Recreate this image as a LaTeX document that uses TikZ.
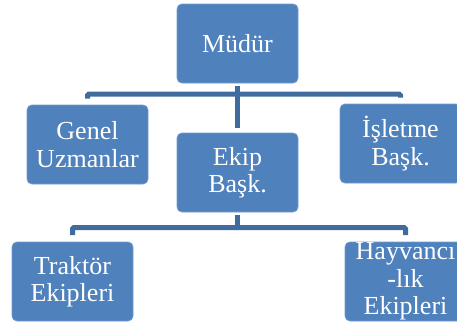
\documentclass[tikz,border=0pt]{standalone}
\usepackage{fontspec}
\setmainfont{Liberation Serif}
\usetikzlibrary{calc}
\definecolor{boxblue}{HTML}{4F81BD}
\definecolor{boxedge}{HTML}{7399CA}
\definecolor{connblue}{HTML}{3F6B9F}
\tikzset{
  orgbox/.style={draw=boxedge, line width=0.8pt, fill=boxblue, rounded corners=5pt,
    minimum width=121pt, minimum height=79pt, inner sep=0pt, text=white, align=center,
    font=\fontsize{26}{27.5}\selectfont},
  conn/.style={draw=connblue, line width=5pt, rounded corners=1.5pt}
}
\begin{document}
\begin{tikzpicture}[x=1pt,y=-1pt]
\clip (0,0) rectangle (457,324);
\node[orgbox] (m) at (237.5,43.5) {Müdür};
\node[orgbox] (g) at (87.5,144.5) {Genel\\Uzmanlar};
\node[orgbox] (e) at (237.5,172.5) {Ekip\\Başk.};
\node[orgbox] (i) at (400.5,143.5) {İşletme\\Başk.};
\node[orgbox] (t) at (72.5,281.5) {Traktör\\Ekipleri};
\node[orgbox] (h) at (405.5,281.5) {Hayvancı\\-lık\\Ekipleri};
\coordinate (bus1) at (0,94);
\coordinate (bus2) at (0,227.5);
\draw[conn] ($(g.north)+(0,-6)$) -- (g.north |- bus1) -- (i.north |- bus1) -- ($(i.north)+(0,-6)$);
\draw[conn] ($(m.south)+(0,3)$) -- ($(e.north)+(0,-5)$);
\draw[conn] ($(t.north)+(0,-6.5)$) -- (t.north |- bus2) -- (h.north |- bus2) -- ($(h.north)+(0,-6.5)$);
\draw[conn] ($(e.south)+(0,3)$) -- (e.south |- bus2);
\end{tikzpicture}
\end{document}
